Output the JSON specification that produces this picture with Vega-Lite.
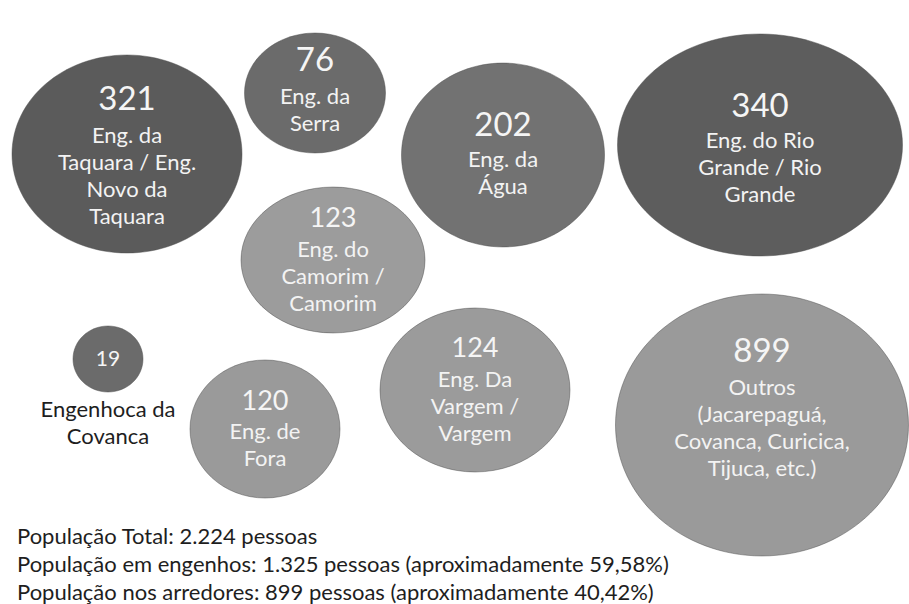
{
  "$schema": "https://vega.github.io/schema/vega-lite/v6.json",
  "width": 909,
  "height": 604,
  "padding": 0,
  "autosize": {"type": "none"},
  "background": "white",
  "config": {"view": {"stroke": null}},
  "datasets": {
    "bubbles": [
      {"id": "a321", "value": 321, "x": 127, "y": 154, "w": 230, "ny": 100, "ly": 136, "lines": ["Eng. da", "Taquara / Eng.", "Novo da", "Taquara"]},
      {"id": "a76", "value": 76, "x": 315, "y": 93, "w": 141, "ny": 61, "ly": 97, "lines": ["Eng. da", "Serra"]},
      {"id": "a202", "value": 202, "x": 503, "y": 155, "w": 203, "ny": 126, "ly": 160, "lines": ["Eng. da", "Água"]},
      {"id": "a340", "value": 340, "x": 760, "y": 145, "w": 285, "ny": 107, "ly": 141, "lines": ["Eng. do Rio", "Grande / Rio", "Grande"]},
      {"id": "a123", "value": 123, "x": 333, "y": 260, "w": 184, "ny": 219, "ly": 250, "lines": ["Eng. do", "Camorim /", "Camorim"]},
      {"id": "a19", "value": 19, "x": 108, "y": 359, "w": 70, "ny": 360, "ly": 410, "lines": ["Engenhoca da", "Covanca"]},
      {"id": "a120", "value": 120, "x": 265, "y": 429, "w": 150, "ny": 402, "ly": 432, "lines": ["Eng. de", "Fora"]},
      {"id": "a124", "value": 124, "x": 475, "y": 390, "w": 190, "ny": 349, "ly": 380, "lines": ["Eng. Da", "Vargem /", "Vargem"]},
      {"id": "a899", "value": 899, "x": 762, "y": 425, "w": 293, "ny": 352, "ly": 388, "lines": ["Outros", "(Jacarepaguá,", "Covanca, Curicica,", "Tijuca, etc.)"]}
    ],
    "notes": [
      {"x": 17, "y": 537, "text": "População Total: 2.224 pessoas"},
      {"x": 17, "y": 565, "text": "População em engenhos: 1.325 pessoas (aproximadamente 59,58%)"},
      {"x": 17, "y": 593, "text": "População nos arredores: 899 pessoas (aproximadamente 40,42%)"}
    ]
  },
  "layer": [
    {
      "data": {"name": "bubbles"},
      "mark": {"type": "point", "filled": true, "opacity": 1, "stroke": "#4a4a4a", "strokeWidth": 1, "strokeOpacity": 0.45},
      "encoding": {
        "x": {"field": "x", "type": "quantitative", "scale": {"domain": [0, 909], "nice": false, "zero": false}, "axis": null},
        "y": {"field": "y", "type": "quantitative", "scale": {"domain": [0, 604], "nice": false, "zero": false, "reverse": true}, "axis": null},
        "size": {"field": "w", "type": "quantitative", "scale": {"type": "pow", "exponent": 2, "domain": [0, 300], "range": [0, 90000]}, "legend": null},
        "shape": {"field": "id", "type": "nominal", "legend": null, "scale": {
          "domain": ["a321", "a76", "a202", "a340", "a123", "a19", "a120", "a124", "a899"],
          "range": [
            "M-1,0A1,0.861,0,1,1,1,0A1,0.861,0,1,1,-1,0Z",
            "M-1,0A1,0.851,0,1,1,1,0A1,0.851,0,1,1,-1,0Z",
            "M-1,0A1,0.906,0,1,1,1,0A1,0.906,0,1,1,-1,0Z",
            "M-1,0A1,0.779,0,1,1,1,0A1,0.779,0,1,1,-1,0Z",
            "M-1,0A1,0.793,0,1,1,1,0A1,0.793,0,1,1,-1,0Z",
            "M-1,0A1,0.943,0,1,1,1,0A1,0.943,0,1,1,-1,0Z",
            "M-1,0A1,0.92,0,1,1,1,0A1,0.92,0,1,1,-1,0Z",
            "M-1,0A1,0.863,0,1,1,1,0A1,0.863,0,1,1,-1,0Z",
            "M-1,0A1,0.894,0,1,1,1,0A1,0.894,0,1,1,-1,0Z"
          ]}},
        "color": {"field": "id", "type": "nominal", "legend": null, "scale": {
          "domain": ["a321", "a76", "a202", "a340", "a123", "a19", "a120", "a124", "a899"],
          "range": ["#5b5b5b", "#6b6b6b", "#727272", "#5d5d5d", "#9c9c9c", "#6b6b6b", "#9a9a9a", "#9b9b9b", "#9a9a9a"]}}
      }
    },
    {
      "data": {"name": "bubbles"},
      "transform": [{"filter": "datum.value >= 200 || datum.value == 76"}],
      "mark": {"type": "text", "font": "Lato", "fontSize": 33, "baseline": "middle", "align": "center", "color": "#f5f5f5"},
      "encoding": {
        "x": {"field": "x", "type": "quantitative"},
        "y": {"field": "ny", "type": "quantitative"},
        "text": {"field": "value", "type": "quantitative"}
      }
    },
    {
      "data": {"name": "bubbles"},
      "transform": [{"filter": "datum.value > 100 && datum.value < 200"}],
      "mark": {"type": "text", "font": "Lato", "fontSize": 27, "baseline": "middle", "align": "center", "color": "#f5f5f5"},
      "encoding": {
        "x": {"field": "x", "type": "quantitative"},
        "y": {"field": "ny", "type": "quantitative"},
        "text": {"field": "value", "type": "quantitative"}
      }
    },
    {
      "data": {"name": "bubbles"},
      "transform": [{"filter": "datum.value == 19"}],
      "mark": {"type": "text", "font": "Lato", "fontSize": 21, "baseline": "middle", "align": "center", "color": "#f5f5f5"},
      "encoding": {
        "x": {"field": "x", "type": "quantitative"},
        "y": {"field": "ny", "type": "quantitative"},
        "text": {"field": "value", "type": "quantitative"}
      }
    },
    {
      "data": {"name": "bubbles"},
      "mark": {"type": "text", "font": "Lato", "fontSize": 22, "lineHeight": 27, "baseline": "middle", "align": "center"},
      "encoding": {
        "x": {"field": "x", "type": "quantitative"},
        "y": {"field": "ly", "type": "quantitative"},
        "text": {"field": "lines"},
        "color": {"condition": {"test": "datum.value == 19", "value": "#1e1e1e"}, "value": "#f3f3f3"}
      }
    },
    {
      "data": {"name": "notes"},
      "mark": {"type": "text", "font": "Lato", "fontSize": 22, "baseline": "middle", "align": "left", "color": "#1e1e1e"},
      "encoding": {
        "x": {"field": "x", "type": "quantitative"},
        "y": {"field": "y", "type": "quantitative"},
        "text": {"field": "text"}
      }
    }
  ]
}
